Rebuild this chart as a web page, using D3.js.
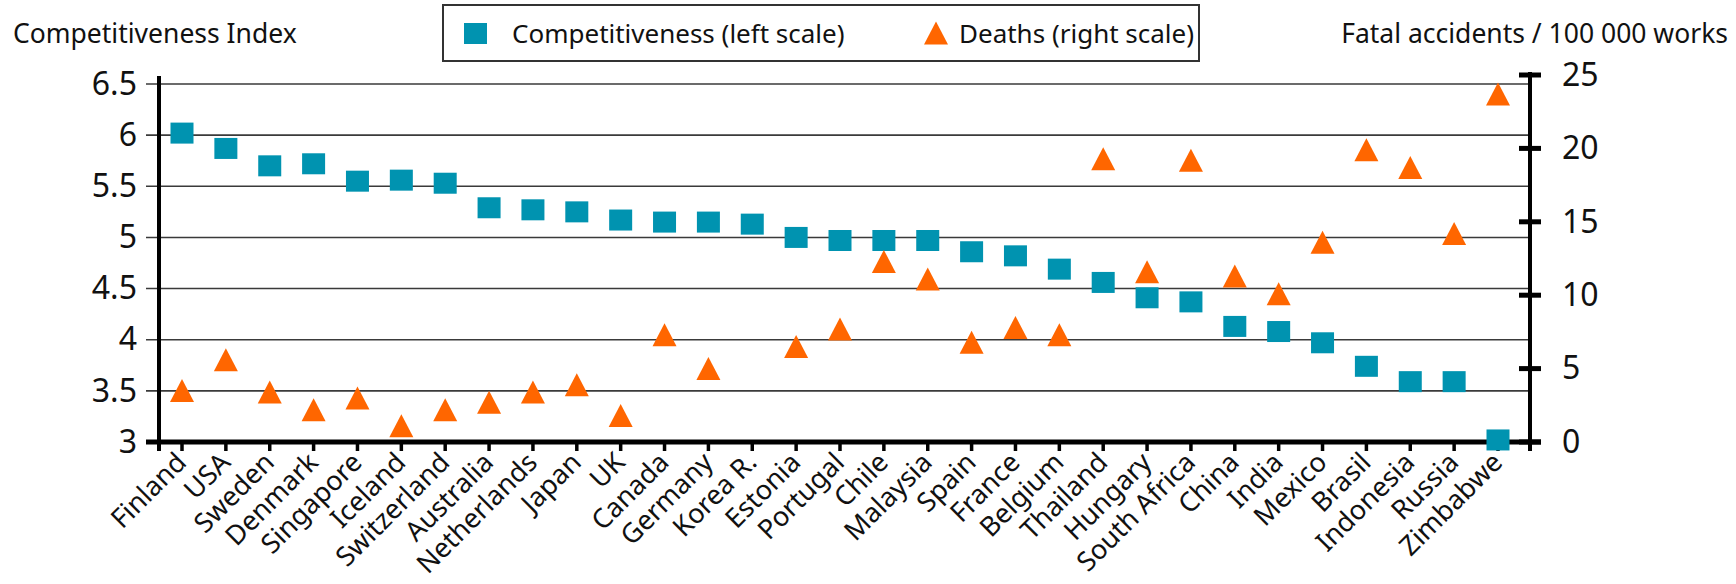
<!DOCTYPE html>
<html><head><meta charset="utf-8">
<script src="https://cdn.jsdelivr.net/npm/d3@7"></script>
<style>
html,body{margin:0;padding:0;background:#fff;}
svg{display:block;font-family:"Noto Sans",sans-serif;}
</style></head>
<body><svg id="chart" width="1736" height="584"></svg>
<script>
const categories = ["Finland","USA","Sweden","Denmark","Singapore","Iceland","Switzerland","Australia","Netherlands","Japan","UK","Canada","Germany","Korea R.","Estonia","Portugal","Chile","Malaysia","Spain","France","Belgium","Thailand","Hungary","South Africa","China","India","Mexico","Brasil","Indonesia","Russia","Zimbabwe"];
const competitiveness = [6.02,5.87,5.70,5.72,5.55,5.56,5.53,5.29,5.27,5.25,5.17,5.15,5.15,5.13,5.00,4.97,4.97,4.97,4.86,4.82,4.69,4.56,4.41,4.37,4.13,4.08,3.97,3.74,3.59,3.59,3.02];
const deaths = [3.5,5.6,3.4,2.2,3.0,1.1,2.2,2.7,3.4,3.9,1.8,7.3,5.0,null,6.5,7.7,12.3,11.1,6.8,7.8,7.3,19.3,11.6,19.2,11.3,10.1,13.6,19.9,18.7,14.2,23.7];
const leftTicks = [3,3.5,4,4.5,5,5.5,6,6.5];
const rightTicks = [0,5,10,15,20,25];
const leftTitle = "Competitiveness Index";
const rightTitle = "Fatal accidents / 100 000 works";
const seriesNames = ["Competitiveness (left scale)","Deaths (right scale)"];
</script>
<script>
const svg = d3.select("#chart");
const BLUE = "#0093B0", ORANGE = "#FF6600";
const axL = 159, axR = 1530, yTop = 84, yBot = 442;

const x = d3.scalePoint().domain(categories).range([182, 1498]);
const yL = d3.scaleLinear().domain([3, 6.5]).range([yBot, yTop]);
const yR = d3.scaleLinear().domain([0, 25]).range([yBot, 75]);

// triangle path centred on its bounding box
const TW = 24, TH = 23;
const triPath = `M0,${-TH/2}L${TW/2},${TH/2}L${-TW/2},${TH/2}Z`;

// gridlines (with left tick extension)
svg.append("g").selectAll("line").data(leftTicks.filter(d => d > 3)).join("line")
  .attr("x1", 146).attr("x2", axR)
  .attr("y1", d => yL(d)).attr("y2", d => yL(d))
  .attr("stroke", "#3a3a3a").attr("stroke-width", 1.6);

// left axis labels
const gL = svg.append("g").attr("transform", `translate(${axL},0)`)
  .call(d3.axisLeft(yL).tickValues(leftTicks).tickFormat(d3.format("")).tickSize(0).tickPadding(22));
gL.select(".domain").remove();
gL.selectAll("text").attr("font-size", 32).attr("font-family", "Noto Sans").attr("fill", "#111");

// right axis labels
const gR = svg.append("g").attr("transform", `translate(${axR},0)`)
  .call(d3.axisRight(yR).tickValues(rightTicks).tickSize(0).tickPadding(32));
gR.select(".domain").remove();
gR.selectAll("text").attr("font-size", 32).attr("font-family", "Noto Sans").attr("fill", "#111");
svg.append("g").selectAll("line").data(rightTicks).join("line")
  .attr("x1", axR - 11).attr("x2", axR + 11)
  .attr("y1", d => yR(d)).attr("y2", d => yR(d))
  .attr("stroke", "#000").attr("stroke-width", 5);

// x axis ticks
svg.append("g").selectAll("line").data(categories).join("line")
  .attr("x1", d => x(d)).attr("x2", d => x(d))
  .attr("y1", yBot).attr("y2", yBot + 9)
  .attr("stroke", "#000").attr("stroke-width", 3.5);

// axis lines
svg.append("line").attr("x1", axL).attr("x2", axL).attr("y1", 76).attr("y2", yBot + 9)
  .attr("stroke", "#000").attr("stroke-width", 4);
svg.append("line").attr("x1", axR).attr("x2", axR).attr("y1", 72).attr("y2", yBot + 9)
  .attr("stroke", "#000").attr("stroke-width", 4);
svg.append("line").attr("x1", 146).attr("x2", axR + 11).attr("y1", yBot).attr("y2", yBot)
  .attr("stroke", "#000").attr("stroke-width", 5);

// x labels
svg.append("g").selectAll("text").data(categories).join("text")
  .attr("transform", d => `translate(${x(d) + 6},${yBot + 22}) rotate(-45)`)
  .attr("text-anchor", "end")
  .attr("font-size", 27).attr("fill", "#111")
  .text(d => d);

// markers
const sq = 23, sqh = 21;
svg.append("g").selectAll("rect").data(categories).join("rect")
  .attr("x", d => x(d) - sq / 2)
  .attr("y", (d, i) => yL(competitiveness[i]) - sqh / 2)
  .attr("width", sq).attr("height", sqh)
  .attr("fill", BLUE);

svg.append("g").selectAll("path")
  .data(categories.map((c, i) => ({c, v: deaths[i]})).filter(d => d.v != null)).join("path")
  .attr("transform", d => `translate(${x(d.c)},${yR(d.v)})`)
  .attr("d", triPath)
  .attr("fill", ORANGE);

// titles
svg.append("text").attr("x", 13).attr("y", 43).attr("font-size", 26.5).attr("fill", "#111").text(leftTitle);
svg.append("text").attr("x", 1728).attr("y", 43).attr("text-anchor", "end").attr("font-size", 26.5).attr("fill", "#111").text(rightTitle);

// legend
const lg = svg.append("g");
lg.append("rect").attr("x", 443).attr("y", 5).attr("width", 756).attr("height", 56)
  .attr("fill", "#fff").attr("stroke", "#333").attr("stroke-width", 2);
lg.append("rect").attr("x", 464).attr("y", 23).attr("width", 23).attr("height", 21).attr("fill", BLUE);
lg.append("text").attr("x", 512).attr("y", 43).attr("font-size", 26).attr("fill", "#111").text(seriesNames[0]);
lg.append("path").attr("d", triPath).attr("transform", "translate(936,33)").attr("fill", ORANGE);
lg.append("text").attr("x", 959).attr("y", 43).attr("font-size", 26).attr("fill", "#111").text(seriesNames[1]);
</script>
</body></html>
